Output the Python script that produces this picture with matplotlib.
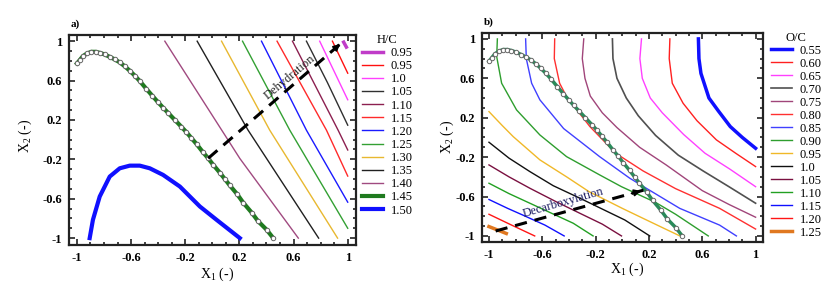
# Van Krevelen style maps: H/C and O/C iso-lines over (X1, X2)
import numpy as np
import matplotlib
matplotlib.use('Agg')
import matplotlib.pyplot as plt
from matplotlib.ticker import FixedLocator, FuncFormatter

plt.rcParams['font.family'] = ['Liberation Serif', 'DejaVu Serif']
plt.rcParams['mathtext.default'] = 'regular'
plt.rcParams['axes.unicode_minus'] = False

# experimental path (same points in both panels)
path_x = [-1.0, -0.98, -0.956, -0.926, -0.894, -0.862, -0.832, -0.795, -0.758, -0.721,
          -0.684, -0.647, -0.61, -0.573, -0.536, -0.487, -0.443, -0.401, -0.364, -0.327,
          -0.277, -0.228, -0.191, -0.154, -0.117, -0.068, -0.031, 0.006, 0.055, 0.092,
          0.129, 0.184, 0.228, 0.29, 0.339, 0.401, 0.45]
path_y = [0.774, 0.807, 0.848, 0.875, 0.892, 0.892, 0.882, 0.865, 0.841, 0.815,
          0.785, 0.745, 0.70, 0.65, 0.595, 0.515, 0.445, 0.38, 0.325, 0.272,
          0.20, 0.13, 0.075, 0.015, -0.044, -0.13, -0.189, -0.255, -0.335, -0.40,
          -0.465, -0.555, -0.64, -0.74, -0.83, -0.915, -1.0]

# H/C = 1.50 curve
hc150_x = [-0.906, -0.882, -0.832, -0.758, -0.684, -0.61, -0.536, -0.462, -0.364, -0.24, -0.092, 0.031, 0.203]
hc150_y = [-1.0, -0.814, -0.578, -0.375, -0.291, -0.264, -0.264, -0.291, -0.358, -0.476, -0.679, -0.814, -1.0]

# panel a: H/C iso-lines
hc_labels = ['0.95', '0.95', '1.0', '1.05', '1.10', '1.15', '1.20', '1.25', '1.30', '1.35', '1.40', '1.45', '1.50']
hc_x = [[0.97, 0.99],
        [0.887, 1.0],
        [0.793, 1.0],
        [0.695, 0.85, 1.0],
        [0.592, 0.929, 1.0],
        [0.478, 0.843, 1.0],
        [0.363, 0.695, 1.0],
        [0.223, 0.572, 1.0],
        [0.068, 0.424, 0.925],
        [-0.112, 0.264, 0.785],
        [-0.351, 0.203, 0.635],
        path_x,
        hc150_x]
hc_y = [[0.99, 0.94],
        [1.0, 0.675],
        [1.0, 0.405],
        [1.0, 0.58, 0.147],
        [1.0, 0.096, -0.105],
        [1.0, 0.096, -0.37],
        [1.0, 0.096, -0.635],
        [1.0, 0.096, -0.90],
        [1.0, 0.096, -1.0],
        [1.0, 0.096, -1.0],
        [1.0, -0.191, -1.0],
        path_y,
        hc150_y]
hc_colors = ['#c03cc8', '#ff1010', '#ff40ff', '#303030', '#8c2050', '#ff2a2a', '#1a1aff',
             '#33a033', '#e8b830', '#202020', '#a04a80', '#1f7a1f', '#1010ff']
hc_widths = [2.5, 1, 1, 1, 1, 1, 1, 1, 1, 1, 1, 3, 3]

# panel b: O/C iso-lines
oc_labels = ['0.55', '0.60', '0.65', '0.70', '0.75', '0.80', '0.85', '0.90',
             '0.95', '1.0', '1.05', '1.10', '1.15', '1.20', '1.25']
oc_x = [[0.571, 0.575, 0.59, 0.65, 0.72, 0.81, 0.90, 1.0],
        [0.357, 0.352, 0.375, 0.456, 0.56, 0.706, 0.85, 1.0],
        [0.144, 0.132, 0.15, 0.21, 0.30, 0.46, 0.62, 0.805, 1.0],
        [-0.074, -0.07, -0.04, 0.03, 0.12, 0.25, 0.42, 0.606, 0.80, 1.0],
        [-0.289, -0.30, -0.28, -0.24, -0.15, -0.04, 0.13, 0.33, 0.60, 0.80, 1.0],
        [-0.507, -0.51, -0.47, -0.418, -0.243, -0.05, 0.156, 0.40, 0.73, 1.0],
        [-0.725, -0.72, -0.68, -0.618, -0.44, -0.17, 0.056, 0.18, 0.431, 0.73, 0.856],
        [-0.937, -0.942, -0.905, -0.793, -0.618, -0.418, -0.169, -0.006, 0.25, 0.40, 0.645],
        [-1.0, -0.90, -0.818, -0.618, -0.418, -0.25, 0.0, 0.20, 0.432],
        [-1.0, -0.85, -0.693, -0.518, -0.318, 0.019, 0.206],
        [-1.0, -0.85, -0.693, -0.50, -0.318, -0.15, -0.006],
        [-1.0, -0.85, -0.693, -0.53, -0.368, -0.219],
        [-1.0, -0.86, -0.743, -0.58, -0.436],
        [-1.0, -0.83, -0.657],
        [-1.0, -0.87]]
oc_y = [[1.0, 0.80, 0.65, 0.40, 0.27, 0.11, 0.0, -0.11],
        [1.0, 0.80, 0.55, 0.347, 0.17, -0.025, -0.16, -0.296],
        [1.0, 0.80, 0.60, 0.40, 0.25, 0.03, -0.16, -0.32, -0.50],
        [1.0, 0.80, 0.60, 0.40, 0.22, 0.02, -0.18, -0.34, -0.50, -0.668],
        [1.0, 0.80, 0.60, 0.42, 0.25, 0.10, -0.10, -0.28, -0.54, -0.68, -0.81],
        [1.0, 0.80, 0.55, 0.414, 0.11, -0.16, -0.34, -0.52, -0.72, -0.93],
        [1.0, 0.80, 0.55, 0.381, 0.09, -0.195, -0.414, -0.516, -0.72, -0.89, -1.0],
        [1.0, 0.82, 0.55, 0.279, 0.025, -0.195, -0.381, -0.5, -0.66, -0.78, -1.0],
        [0.262, 0.12, 0.008, -0.228, -0.40, -0.55, -0.72, -0.85, -1.0],
        [-0.049, -0.21, -0.347, -0.49, -0.617, -0.838, -1.0],
        [-0.279, -0.40, -0.516, -0.65, -0.77, -0.88, -1.0],
        [-0.465, -0.57, -0.668, -0.77, -0.871, -1.0],
        [-0.63, -0.72, -0.79, -0.89, -1.0],
        [-0.78, -0.89, -1.0],
        [-0.905, -0.975]]
oc_colors = ['#1010ff', '#ff2020', '#ff40ff', '#505050', '#a0457a', '#ff3030', '#4040ff', '#2e9e2e',
             '#f0b828', '#101010', '#7a1040', '#22a022', '#1010ff', '#ff1515', '#e07820']
oc_widths = [2.5, 1, 1, 1.2, 1, 1, 1, 1, 1, 1, 1, 1, 1, 1, 2.5]

# arrows
dehyd_x = [-0.031, 0.96]
dehyd_y = [-0.19, 0.99]
decarb_x = [-0.95, 0.16]
decarb_y = [-0.95, -0.535]

ticks = [-1, -0.6, -0.2, 0.2, 0.6, 1]


def style_axes(ax, xlim, ylim):
    ax.set_xlim(*xlim)
    ax.set_ylim(*ylim)
    ax.xaxis.set_major_locator(FixedLocator(ticks))
    ax.yaxis.set_major_locator(FixedLocator(ticks))
    ax.xaxis.set_minor_locator(FixedLocator(np.arange(-1, 1.01, 0.1)))
    ax.yaxis.set_minor_locator(FixedLocator(np.arange(-1, 1.01, 0.1)))
    fmt = FuncFormatter(lambda v, p: '%g' % v)
    ax.xaxis.set_major_formatter(fmt)
    ax.yaxis.set_major_formatter(fmt)
    ax.tick_params(which='both', direction='in', top=True, right=True, width=1.2, color='#222222')
    ax.tick_params(which='major', length=4.5, labelsize=9, pad=5)
    ax.tick_params(which='minor', length=2.5)
    for lab in ax.get_xticklabels() + ax.get_yticklabels():
        lab.set_fontweight('bold')
    for s in ax.spines.values():
        s.set_linewidth(1.6)
        s.set_color('#222222')
    ax.set_xlabel('X$_1$ (-)', fontsize=10)
    ax.set_ylabel('X$_2$ (-)', fontsize=10)


def dashed_arrow(ax, xs, ys):
    ax.plot(xs, ys, color='k', lw=2.2, dashes=(4, 2.6), zorder=6)
    bx = xs[0] + 0.9 * (xs[1] - xs[0])
    by = ys[0] + 0.9 * (ys[1] - ys[0])
    ax.annotate('', xy=(xs[1], ys[1]), xytext=(bx, by),
                arrowprops=dict(arrowstyle='-|>', color='k', lw=1.2, mutation_scale=10), zorder=7)


fig = plt.figure(figsize=(8.36, 2.86), dpi=100)
ax_a = fig.add_axes([0.0825, 0.143, 0.343, 0.734])
ax_b = fig.add_axes([0.5766, 0.154, 0.336, 0.731])

# panel a
for xs, ys, lab, c, w in zip(hc_x, hc_y, hc_labels, hc_colors, hc_widths):
    ax_a.plot(xs, ys, color=c, lw=w, label=lab)
ax_a.plot(path_x, path_y, 'o', ms=3.2, mfc='white', mec='#666666', mew=0.7, zorder=5)
dashed_arrow(ax_a, dehyd_x, dehyd_y)
ax_a.text(0.575, 0.635, 'Dehydration', rotation=40, ha='center', va='center',
          rotation_mode='anchor', fontsize=9, color='#202020')
style_axes(ax_a, (-1.059, 1.059), (-1.071, 1.061))
ax_a.xaxis.set_label_coords(0.516, -0.1)
ax_a.yaxis.set_label_coords(-0.122, 0.52)
ax_a.text(0.005, 1.03, 'a)', transform=ax_a.transAxes, fontsize=8, fontweight='bold', va='bottom')
ax_a.legend(loc='upper left', bbox_to_anchor=(1.005, 1.03), frameon=False, title='H/C',
            fontsize=9, title_fontsize=9, handlelength=1.7, handletextpad=0.6,
            labelspacing=0.09, borderaxespad=0)

# panel b
for xs, ys, lab, c, w in zip(oc_x, oc_y, oc_labels, oc_colors, oc_widths):
    ax_b.plot(xs, ys, color=c, lw=w, label=lab)
ax_b.plot(path_x, path_y, color='#2a8a5a', lw=2.5, zorder=4)
ax_b.plot(path_x, path_y, 'o', ms=3.2, mfc='white', mec='#666666', mew=0.7, zorder=5)
dashed_arrow(ax_b, decarb_x, decarb_y)
ax_b.text(-0.444, -0.66, 'Decarboxylation', rotation=16, ha='center', va='center',
          rotation_mode='anchor', fontsize=9, color='#1a1a60')
style_axes(ax_b, (-1.052, 1.055), (-1.061, 1.061))
ax_b.xaxis.set_label_coords(0.516, -0.09)
ax_b.yaxis.set_label_coords(-0.093, 0.5)
ax_b.text(0.005, 1.03, 'b)', transform=ax_b.transAxes, fontsize=8, fontweight='bold', va='bottom')
ax_b.legend(loc='upper left', bbox_to_anchor=(1.01, 1.03), frameon=False, title='O/C',
            fontsize=9, title_fontsize=9, handlelength=1.7, handletextpad=0.6,
            labelspacing=0.08, borderaxespad=0)

fig.savefig('out.png', dpi=100)
